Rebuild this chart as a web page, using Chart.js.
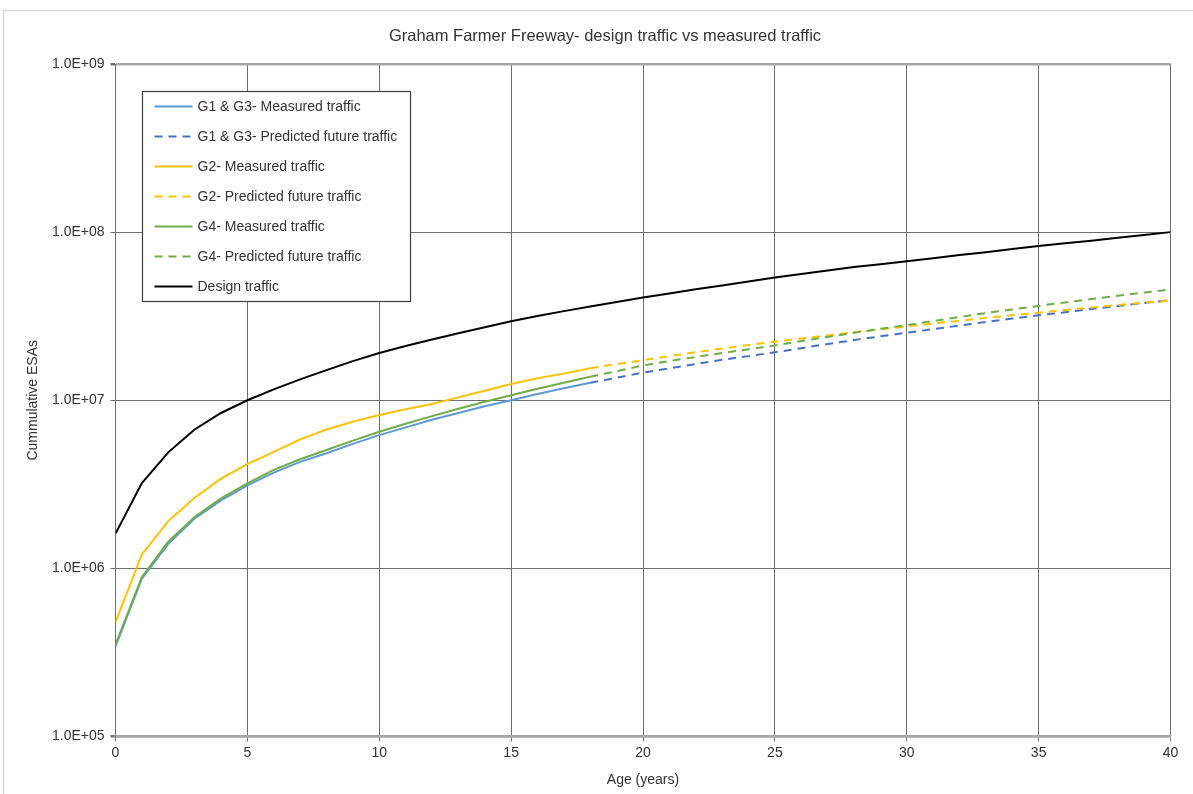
<!DOCTYPE html>
<html>
<head>
<meta charset="utf-8">
<title>Graham Farmer Freeway</title>
<script src="https://cdn.jsdelivr.net/npm/chart.js@4.4.1/dist/chart.umd.min.js"></script>
<style>
  html, body { margin:0; padding:0; background:#fff; }
  #wrap { width:1193px; height:794px; }
</style>
</head>
<body>
<div id="wrap"><canvas id="trafficChart" width="1193" height="794"></canvas></div>
<script>
// age (years) for each series
const measuredYears = [0,1,2,3,4,5,6,7,8,9,10,11,12,13,14,15,16,17,18];
const predictedYears = [18,19,20,21,22,23,24,25,26,27,28,29,30,31,32,33,34,35,36,37,38,39,40];
const designYears = [0,1,2,3,4,5,6,7,8,9,10,11,12,13,14,15,16,17,18,19,20,21,22,23,24,25,26,27,28,29,30,31,32,33,34,35,36,37,38,39,40];

// cumulative ESAs
const g13Measured = [3.44e5,8.7e5,1.40e6,1.98e6,2.54e6,3.12e6,3.71e6,4.30e6,4.84e6,5.50e6,6.20e6,6.90e6,7.65e6,8.40e6,9.20e6,1.00e7,1.09e7,1.18e7,1.27e7];
const g13Predicted = [1.27e7,1.36e7,1.46e7,1.55e7,1.64e7,1.74e7,1.83e7,1.93e7,2.04e7,2.16e7,2.28e7,2.40e7,2.52e7,2.65e7,2.78e7,2.92e7,3.06e7,3.20e7,3.34e7,3.49e7,3.64e7,3.79e7,3.94e7];
const g2Measured = [4.8e5,1.21e6,1.91e6,2.63e6,3.42e6,4.17e6,4.93e6,5.85e6,6.70e6,7.46e6,8.16e6,8.83e6,9.50e6,1.04e7,1.14e7,1.25e7,1.35e7,1.44e7,1.55e7];
const g2Predicted = [1.55e7,1.64e7,1.73e7,1.83e7,1.93e7,2.03e7,2.13e7,2.23e7,2.33e7,2.43e7,2.54e7,2.64e7,2.75e7,2.86e7,2.97e7,3.09e7,3.20e7,3.32e7,3.44e7,3.56e7,3.68e7,3.80e7,3.92e7];
const g4Measured = [3.52e5,8.9e5,1.44e6,2.02e6,2.61e6,3.20e6,3.85e6,4.46e6,5.06e6,5.75e6,6.50e6,7.25e6,8.05e6,8.90e6,9.80e6,1.07e7,1.17e7,1.27e7,1.38e7];
const g4Predicted = [1.38e7,1.49e7,1.61e7,1.71e7,1.81e7,1.91e7,2.01e7,2.12e7,2.25e7,2.38e7,2.52e7,2.66e7,2.80e7,2.96e7,3.13e7,3.30e7,3.47e7,3.64e7,3.82e7,4.00e7,4.18e7,4.37e7,4.56e7];
const designTraffic = [1.61e6,3.22e6,4.90e6,6.70e6,8.40e6,1.00e7,1.16e7,1.33e7,1.51e7,1.71e7,1.91e7,2.10e7,2.30e7,2.50e7,2.72e7,2.95e7,3.17e7,3.39e7,3.61e7,3.84e7,4.08e7,4.32e7,4.57e7,4.82e7,5.09e7,5.37e7,5.64e7,5.92e7,6.20e7,6.45e7,6.71e7,7.00e7,7.30e7,7.60e7,7.93e7,8.26e7,8.58e7,8.90e7,9.25e7,9.60e7,1.00e8];

const yTickValues = [1e5,1e6,1e7,1e8,1e9];
const yTickLabels = ['1.0E+05','1.0E+06','1.0E+07','1.0E+08','1.0E+09'];

const chartTitle = 'Graham Farmer Freeway- design traffic vs measured traffic';

const FONT = 'Liberation Sans, Arial, sans-serif';
const TEXT = '#333333';
const GRID = '#6f6f6f';
const EDGE = '#a6a6a6';

const pts = (xs, ys) => ys.map((y, i) => ({ x: xs[i], y }));
const series = (label, xs, ys, color, dashed, idx) => ({
  label,
  data: pts(xs, ys),
  borderColor: color,
  backgroundColor: color,
  borderWidth: 2,
  borderDash: dashed ? [8, 6] : [],
  pointRadius: 0,
  tension: 0,
  fill: false,
  order: 10 - idx
});

const datasets = [
  series('G1 & G3- Measured traffic', measuredYears, g13Measured, '#5b9bd5', false, 0),
  series('G1 & G3- Predicted future traffic', predictedYears, g13Predicted, '#4472c4', true, 1),
  series('G2- Measured traffic', measuredYears, g2Measured, '#ffc000', false, 2),
  series('G2- Predicted future traffic', predictedYears, g2Predicted, '#ffc000', true, 3),
  series('G4- Measured traffic', measuredYears, g4Measured, '#70ad47', false, 4),
  series('G4- Predicted future traffic', predictedYears, g4Predicted, '#70ad47', true, 5),
  series('Design traffic', designYears, designTraffic, '#000000', false, 6)
];

// white page, light frame and the heading (the frame runs past the right edge,
// so the heading is centred on the frame rather than the canvas)
const frame = {
  id: 'frame',
  beforeDraw(chart){
    const c = chart.ctx;
    c.save();
    c.fillStyle = '#fff';
    c.fillRect(0, 0, chart.width, chart.height);
    c.strokeStyle = '#d9d9d9';
    c.lineWidth = 1.5;
    c.strokeRect(3.5, 10.5, chart.width + 10, chart.height + 10);
    c.fillStyle = TEXT;
    c.font = `16.5px ${FONT}`;
    c.textAlign = 'center';
    c.textBaseline = 'middle';
    c.fillText(chartTitle, 605, 36);
    c.restore();
  }
};

// boxed legend sitting inside the plot, top left
const boxLegend = {
  id: 'boxLegend',
  afterDatasetsDraw(chart){
    const c = chart.ctx;
    const a = chart.chartArea;
    const x = Math.round(a.left + 26) + 0.5;
    const y = Math.round(a.top + 27) + 0.5;
    const w = 268, h = 210, row = 30;
    c.save();
    c.fillStyle = '#fff';
    c.fillRect(x, y, w, h);
    c.strokeStyle = '#404040';
    c.lineWidth = 1.2;
    c.strokeRect(x, y, w, h);
    c.font = `14px ${FONT}`;
    c.textBaseline = 'middle';
    c.textAlign = 'left';
    chart.data.datasets.forEach((ds, i) => {
      const cy = y + 15 + i * row;
      c.beginPath();
      c.strokeStyle = ds.borderColor;
      c.lineWidth = ds.borderWidth;
      c.setLineDash(ds.borderDash || []);
      c.moveTo(x + 12, cy);
      c.lineTo(x + 50, cy);
      c.stroke();
      c.setLineDash([]);
      c.fillStyle = TEXT;
      c.fillText(ds.label, x + 55, cy + 1);
    });
    c.restore();
  }
};

new Chart(document.getElementById('trafficChart'), {
  type: 'line',
  data: { datasets },
  plugins: [frame, boxLegend],
  options: {
    responsive: false,
    animation: false,
    devicePixelRatio: 1,
    layout: { padding: { left: 20, right: 22.5, top: 64, bottom: 4 } },
    plugins: {
      legend: { display: false },
      tooltip: { enabled: false },
      title: { display: false }
    },
    scales: {
      x: {
        type: 'linear',
        min: 0,
        max: 40,
        afterFit: (s) => { s.height = 53.5; },
        ticks: { stepSize: 5, color: TEXT, font: { family: FONT, size: 14 }, padding: 3, maxRotation: 0 },
        grid: { color: GRID, lineWidth: 1, tickLength: 5, tickColor: GRID },
        border: { color: EDGE, width: 2.5 },
        title: { display: true, text: 'Age (years)', color: TEXT, font: { family: FONT, size: 14 }, padding: { top: 2, bottom: 1 } }
      },
      y: {
        type: 'logarithmic',
        min: 1e5,
        max: 1e9,
        afterBuildTicks: (s) => { s.ticks = yTickValues.map(v => ({ value: v })); },
        afterFit: (s) => { s.width = 95.5; },
        ticks: {
          color: TEXT,
          font: { family: FONT, size: 14 },
          padding: 6,
          callback: (v) => yTickLabels[yTickValues.indexOf(v)]
        },
        grid: {
          color: (ctx) => (ctx.tick && (ctx.tick.value === 1e9 || ctx.tick.value === 1e5)) ? EDGE : GRID,
          lineWidth: (ctx) => (ctx.tick && (ctx.tick.value === 1e9 || ctx.tick.value === 1e5)) ? 2.5 : 1,
          tickLength: 5,
          tickColor: GRID
        },
        border: { color: GRID, width: 1 },
        title: { display: true, text: 'Cummulative ESAs', color: TEXT, font: { family: FONT, size: 14 }, padding: { top: 5, bottom: 4 } }
      }
    }
  }
});
</script>
</body>
</html>
